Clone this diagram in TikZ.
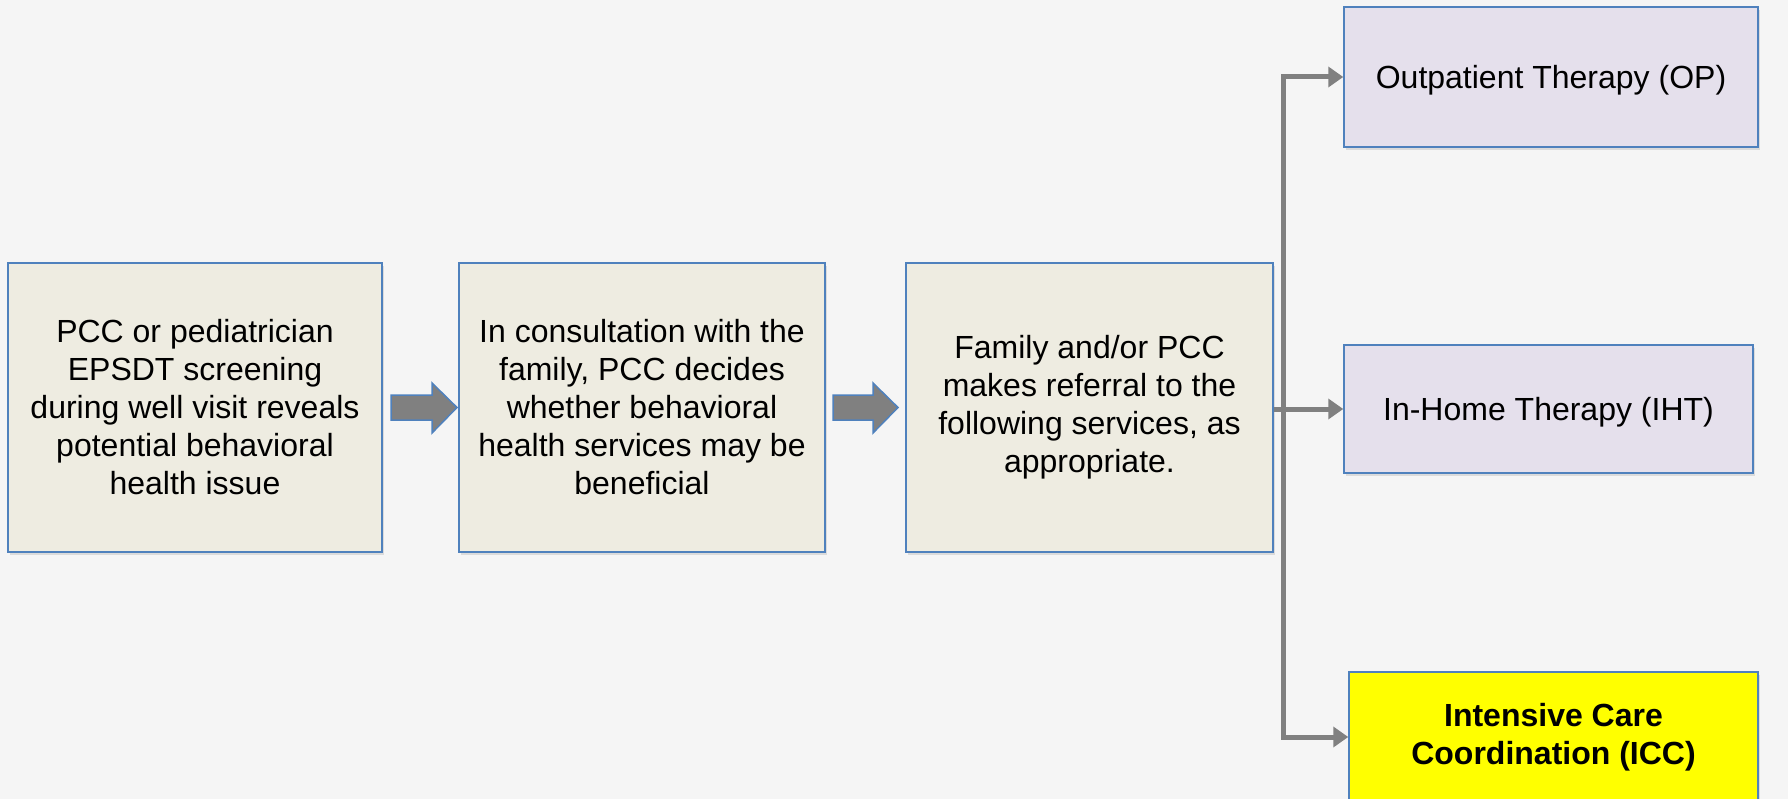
\documentclass[tikz,border=0pt]{standalone}
\usepackage{fontspec}
\setmainfont{Liberation Sans}
\usetikzlibrary{arrows.meta,shadows,calc}
\definecolor{bgc}{HTML}{F5F5F5}
\definecolor{beige}{HTML}{EEECE1}
\definecolor{lav}{HTML}{E5E0EC}
\definecolor{bord}{HTML}{4F81BD}
\definecolor{conng}{HTML}{808080}
\definecolor{yel}{HTML}{FFFF00}
\tikzset{
  boxbase/.style={draw=bord, line width=1.5pt, inner sep=0pt, align=center,
    font=\fontsize{32}{38}\selectfont,
    drop shadow={opacity=0.22, shadow xshift=2pt, shadow yshift=-3pt}},
  stepbox/.style={boxbase, fill=beige, minimum height=289pt},
  svcbox/.style={boxbase, fill=lav, text height=23pt, text depth=0pt},
  iccbox/.style={boxbase, fill=yel, font=\fontsize{32}{38}\selectfont\bfseries},
  conn/.style={draw=conng, line width=5pt, line join=miter},
  tipend/.style={-{Triangle[length=15pt,width=20pt]}},
  blockarrow/.style={fill=conng, draw=bord, line width=1.5pt, line join=miter}
}
\begin{document}
\begin{tikzpicture}[x=1pt,y=-1pt]
\fill[bgc] (0,0) rectangle (1788,799);
\useasboundingbox (0,0) rectangle (1788,799);
\clip (0,0) rectangle (1788,799);

\node[stepbox, minimum width=374pt] (b1) at (195,407.5)
  {PCC or pediatrician\\EPSDT screening\\during well visit reveals\\potential behavioral\\health issue};
\node[stepbox, minimum width=366pt] (b2) at (642,407.5)
  {In consultation with the\\family, PCC decides\\whether behavioral\\health services may be\\beneficial};
\node[stepbox, minimum width=367pt] (b3) at (1089.5,407.5)
  {Family and/or PCC\\makes referral to the\\following services, as\\appropriate.};

\node[svcbox, minimum width=414pt, minimum height=140pt] (op) at (1551,77)
  {Outpatient Therapy (OP)};
\node[svcbox, minimum width=409pt, minimum height=128pt] (iht) at (1548.5,409)
  {In-Home Therapy (IHT)};
\node[iccbox, minimum width=409pt, minimum height=130pt] (icc) at (1553.5,737)
  {Intensive Care\\Coordination (ICC)};

% block arrows between steps
\draw[blockarrow] (391,395) -- (432,395) -- (432,383) -- (457,407.5) -- (432,433) -- (432,420) -- (391,420) -- cycle;
\draw[blockarrow] (833,395) -- (873,395) -- (873,383) -- (898,407.5) -- (873,433) -- (873,420) -- (833,420) -- cycle;

% connectors to services
\coordinate (spine) at (1283,0);
\coordinate (vtop) at (spine |- op.west);
\coordinate (vbot) at (spine |- icc.west);
\draw[conn, {Triangle[length=15pt,width=20pt]}-{Triangle[length=15pt,width=20pt]}]
  (op.west) -- (vtop) -- (vbot) -- (icc.west);
\draw[conn, tipend] (b3.east |- iht.west) -- (iht.west);
\end{tikzpicture}
\end{document}
